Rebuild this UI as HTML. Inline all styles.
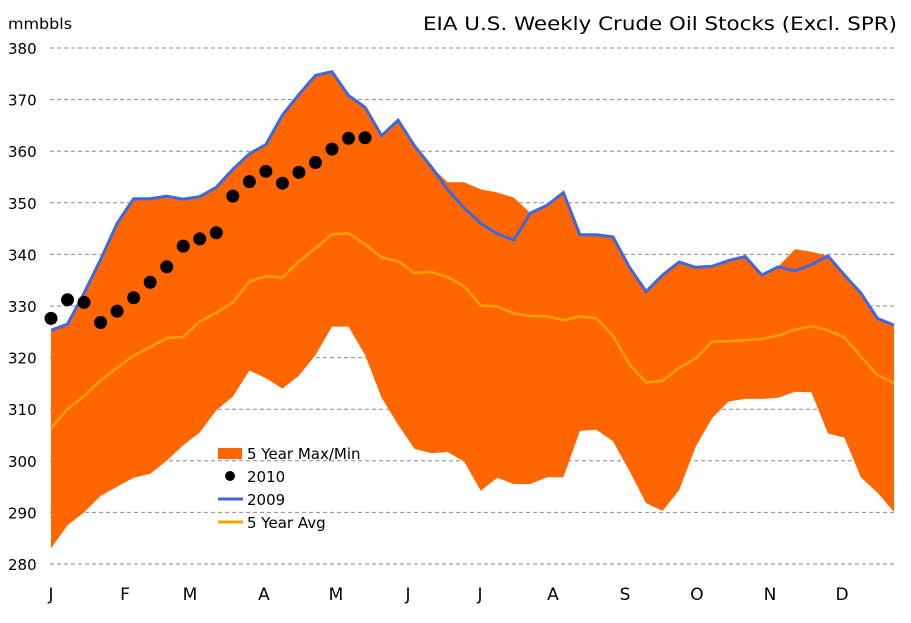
<!DOCTYPE html>
<html><head><meta charset="utf-8"><style>
html,body{margin:0;padding:0;background:#fff;}
svg{display:block;font-family:"DejaVu Sans","Liberation Sans",sans-serif;}
</style></head><body>
<svg id="chart" width="911" height="623" viewBox="0 0 911 623" xmlns="http://www.w3.org/2000/svg">
<text x="897" y="30" text-anchor="end" font-size="19" textLength="474" lengthAdjust="spacingAndGlyphs">EIA U.S. Weekly Crude Oil Stocks (Excl. SPR)</text>
<text x="8" y="29" font-size="15" textLength="64" lengthAdjust="spacingAndGlyphs">mmbbls</text>
<g id="grid"></g><g id="band"></g><g id="lines"></g><g id="dots"></g><g id="axes"></g>
<g>
<rect x="218" y="448" width="24" height="11" fill="#ff6600"/>
<text x="247" y="459" font-size="15">5 Year Max/Min</text>
<circle cx="230" cy="476" r="5" fill="#000"/>
<text x="247" y="482" font-size="15">2010</text>
<line x1="218" y1="499" x2="243" y2="499" stroke="#3d68e0" stroke-width="3"/>
<text x="247" y="505" font-size="15">2009</text>
<line x1="218" y1="522" x2="243" y2="522" stroke="#ffa000" stroke-width="3"/>
<text x="247" y="528" font-size="15">5 Year Avg</text>
</g>
</svg>
<script>
const yTicks=[280,290,300,310,320,330,340,350,360,370,380];
const months=["J","F","M","A","M","J","J","A","S","O","N","D"];
const s2009=[325.3,326.5,332.5,339,346,350.8,350.8,351.3,350.7,351.2,353,356.5,359.5,361.3,367,371,374.7,375.4,370.8,368.5,363,366,361,357,352.5,349,346,344,342.8,348,349.5,352,343.8,343.8,343.4,337.5,332.8,336,338.5,337.5,337.7,338.8,339.6,336,337.6,336.8,338,339.7,336,332.5,327.6,326.3];
const sMax=[325.3,326.5,332.5,339,346,350.8,350.8,351.3,350.7,351.2,353,356.5,359.5,361.3,367,371,374.7,375.4,370.8,368.5,363,366,361,357,354,354,352.6,352,351,348,349.5,352,343.8,343.8,343.4,337.5,332.8,336,338.5,337.5,337.7,338.8,339.6,336,337.6,341,340.5,339.7,336,332.5,327.6,326.3];
const sMin=[283,287.5,290,293.2,295,296.7,297.5,300,303,305.5,309.8,312.4,317.5,316,314,316.5,320.5,326,326,320.5,312.2,307,302.3,301.5,301.7,299.8,294.2,296.7,295.5,295.5,296.8,296.8,305.8,306,303.8,298,291.8,290.3,294.3,302.7,308.3,311.5,312,312,312.2,313.4,313.3,305.3,304.5,296.8,293.8,290.1];
const sAvg=[306.3,310,312.5,315.6,318,320.4,322,323.8,324,327,328.7,330.7,334.7,335.8,335.5,338.6,341.2,343.9,344.1,342,339.4,338.7,336.4,336.6,335.6,333.8,330.1,329.9,328.6,328,328,327.2,328,327.6,324.2,318.7,315.2,315.5,318,319.8,323.1,323.2,323.4,323.6,324.3,325.4,326.1,325.3,323.9,320.2,316.6,315.1];
const s2010=[327.6,331.2,330.7,326.8,329,331.6,334.6,337.6,341.6,343,344.2,351.3,354.1,356.1,353.8,355.9,357.8,360.4,362.5,362.6];
const NS="http://www.w3.org/2000/svg";
const X0=51,X1=894,Y380=48,Y280=564;
const xS=i=>X0+(X1-X0)*i/(sMax.length-1);
const yS=v=>Y280-(v-280)*(Y280-Y380)/100;
function mk(tag,attrs,parent){const e=document.createElementNS(NS,tag);for(const k in attrs)e.setAttribute(k,attrs[k]);document.getElementById(parent).appendChild(e);return e;}
yTicks.forEach(t=>{
 const g=mk("line",{x1:50,x2:895,y1:yS(t),y2:yS(t),stroke:"#8a8a8a","stroke-dasharray":"4,3","stroke-width":1},"grid");
 
 
 const l=mk("text",{x:8,y:yS(t)+6,"font-size":15},"axes");l.textContent=t;
 
 
});
const monthX=[51,125,190,264,336,408,480,553,625,697,770,842];
months.forEach((m,i)=>{
 const x=X0+(X1-X0)*(i*52/12)/51*0.985;
 const t=mk("text",{x:monthX[i],y:600,"font-size":17,"text-anchor":"middle"},"axes");t.textContent=m;
 
 
});
let d=sMax.map((v,i)=>(i?"L":"M")+xS(i).toFixed(1)+","+yS(v).toFixed(1)).join("");
for(let i=sMin.length-1;i>=0;i--)d+="L"+xS(i).toFixed(1)+","+yS(sMin[i]).toFixed(1);
const band=mk("path",{d:d+"Z",fill:"#ff6600"},"band");


const pts=a=>a.map((v,i)=>xS(i).toFixed(1)+","+yS(v).toFixed(1)).join(" ");
const avg=mk("polyline",{points:pts(sAvg),fill:"none",stroke:"#ffa000","stroke-width":2.5},"lines");


const l09=mk("polyline",{points:pts(s2009),fill:"none",stroke:"#3d68e0","stroke-width":3},"lines");


s2010.forEach((v,i)=>{
 const c=mk("circle",{cx:xS(i),cy:yS(v),r:6.5,fill:"#000"},"dots");
 
 
});
</script>
</body></html>
